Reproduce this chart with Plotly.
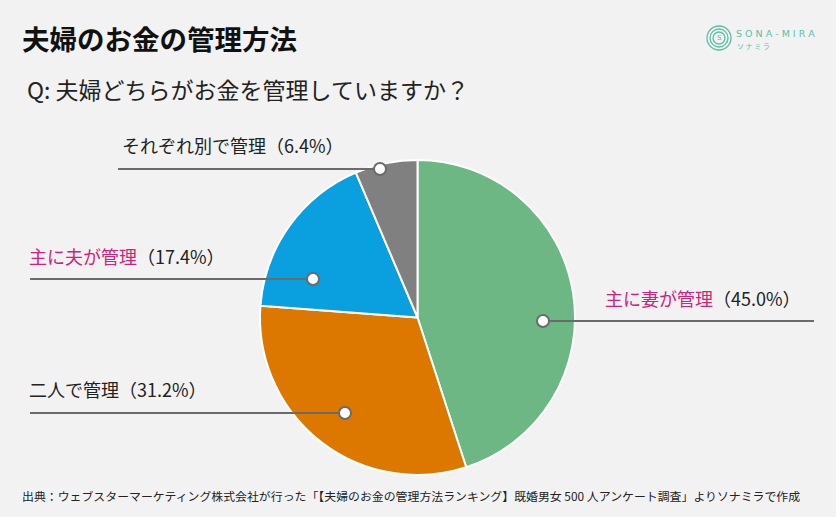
import plotly.graph_objects as go

# ---- data ----
categories = ["主に妻が管理", "二人で管理", "主に夫が管理", "それぞれ別で管理"]
values = [45.0, 31.2, 17.4, 6.4]
colors = ["#6db784", "#dc7800", "#0a9fdf", "#808080"]
highlight = [True, False, True, False]

title_text = "夫婦のお金の管理方法"
question_text = "Q: 夫婦どちらがお金を管理していますか？"
source_text = ("出典：ウェブスターマーケティング株式会社が行った「【夫婦のお金の管理方法ランキング】"
               "既婚男女 500 人アンケート調査」よりソナミラで作成")

# ---- layout constants (pixels) ----
W, H = 836, 517
FONT = "Noto Sans CJK JP"
BG = "#f2f2f2"
MAGENTA = "#d4207a"
LINE = "#6b6b6b"
TEAL = "#5cbfa6"
# pie box in pixels
px0, px1, py0, py1 = 260, 575, 160, 475
# callouts: marker point, line end x, label anchor
callouts = [
    dict(mx=543, my=321, lx=814, tx=603, ty=298),
    dict(mx=345, my=413, lx=30, tx=27, ty=389),
    dict(mx=313, my=279, lx=30, tx=27, ty=256),
    dict(mx=380, my=169, lx=118, tx=120, ty=145),
]

fig = go.Figure()
fig.add_trace(go.Pie(
    labels=categories, values=values, sort=False, direction="clockwise", rotation=0,
    marker=dict(colors=colors, line=dict(color="white", width=2)),
    textinfo="none", hoverinfo="skip", showlegend=False,
    domain=dict(x=[px0 / W, px1 / W], y=[1 - py1 / H, 1 - py0 / H]),
))

annotations = []
shapes = []
for cat, val, hl, c in zip(categories, values, highlight, callouts):
    shapes.append(dict(type="line", xref="x", yref="y", layer="above",
                       x0=c["lx"], x1=c["mx"], y0=c["my"], y1=c["my"],
                       line=dict(color=LINE, width=2)))
    shapes.append(dict(type="circle", xref="x", yref="y", layer="above",
                       x0=c["mx"] - 6, x1=c["mx"] + 6, y0=c["my"] - 6, y1=c["my"] + 6,
                       fillcolor="white", line=dict(color=LINE, width=2)))
    name = f"<span style='color:{MAGENTA}'>{cat}</span>" if hl else cat
    annotations.append(dict(
        x=c["tx"], y=c["ty"], xref="x", yref="y", xanchor="left", yanchor="middle",
        text=f"{name}（{val:.1f}%）", showarrow=False,
        font=dict(family=FONT, size=18, color="#222222")))

annotations += [
    dict(x=20, y=38, xref="x", yref="y", xanchor="left", yanchor="middle",
         text=f"<b>{title_text}</b>", showarrow=False,
         font=dict(family=FONT, size=27.5, color="#111111")),
    dict(x=25, y=89, xref="x", yref="y", xanchor="left", yanchor="middle",
         text=question_text, showarrow=False,
         font=dict(family=FONT, size=23, color="#222222")),
    dict(x=20, y=495, xref="x", yref="y", xanchor="left", yanchor="middle",
         text=source_text, showarrow=False,
         font=dict(family=FONT, size=11.9, color="#222222")),
    dict(x=734, y=33, xref="x", yref="y", xanchor="left", yanchor="middle",
         text="S O N A - M I R A", showarrow=False,
         font=dict(family="DejaVu Sans", size=9.5, color=TEAL)),
    dict(x=735, y=46, xref="x", yref="y", xanchor="left", yanchor="middle",
         text="ソ ナ ミ ラ", showarrow=False,
         font=dict(family=FONT, size=7, color=TEAL)),
    dict(x=719, y=38, xref="x", yref="y", xanchor="center", yanchor="middle",
         text="S", showarrow=False,
         font=dict(family="DejaVu Sans", size=7, color=TEAL)),
]

for r in [12, 9, 6]:
    shapes.append(dict(type="circle", xref="x", yref="y",
                       x0=719 - r, x1=719 + r, y0=38 - r, y1=38 + r,
                       line=dict(color=TEAL, width=1.3)))

fig.update_layout(
    width=W, height=H, margin=dict(l=0, r=0, t=0, b=0),
    paper_bgcolor=BG, plot_bgcolor="rgba(0,0,0,0)",
    xaxis=dict(range=[0, W], visible=False, domain=[0, 1], fixedrange=True),
    yaxis=dict(range=[H, 0], visible=False, domain=[0, 1], fixedrange=True),
    annotations=annotations, shapes=shapes,
)
fig.write_html(
    "out.html",
    config={"displayModeBar": False},
    post_script="document.body.style.margin='0';document.body.style.background='#f2f2f2';",
)
